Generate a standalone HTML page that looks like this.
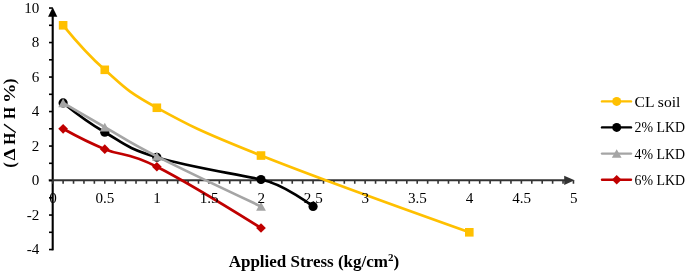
<!DOCTYPE html>
<html><head><meta charset="utf-8"><title>chart</title><style>html,body{margin:0;padding:0;background:#fff}</style></head><body>
<svg width="685" height="273" viewBox="0 0 685 273" style="display:block;font-family:'Liberation Serif',serif">
<rect width="685" height="273" fill="#fff"/>
<line x1="52.70" y1="250.35" x2="52.70" y2="15.00" stroke="#000" stroke-width="2.1"/>
<line x1="48.70" y1="180.25" x2="565.00" y2="180.25" stroke="#333" stroke-width="1.8"/>
<polygon points="52.70,7.20 57.30,16.80 48.10,16.80" fill="#000"/>
<polygon points="574.60,180.35 564.20,175.75 564.20,184.95" fill="#333"/>
<line x1="49.00" y1="249.55" x2="52.70" y2="249.55" stroke="#000" stroke-width="1.6"/>
<line x1="49.00" y1="232.30" x2="52.70" y2="232.30" stroke="#000" stroke-width="1.6"/>
<line x1="49.00" y1="215.05" x2="52.70" y2="215.05" stroke="#000" stroke-width="1.6"/>
<line x1="49.00" y1="197.80" x2="52.70" y2="197.80" stroke="#000" stroke-width="1.6"/>
<line x1="49.00" y1="180.55" x2="52.70" y2="180.55" stroke="#000" stroke-width="1.6"/>
<line x1="49.00" y1="163.30" x2="52.70" y2="163.30" stroke="#000" stroke-width="1.6"/>
<line x1="49.00" y1="146.05" x2="52.70" y2="146.05" stroke="#000" stroke-width="1.6"/>
<line x1="49.00" y1="128.80" x2="52.70" y2="128.80" stroke="#000" stroke-width="1.6"/>
<line x1="49.00" y1="111.55" x2="52.70" y2="111.55" stroke="#000" stroke-width="1.6"/>
<line x1="49.00" y1="94.30" x2="52.70" y2="94.30" stroke="#000" stroke-width="1.6"/>
<line x1="49.00" y1="77.05" x2="52.70" y2="77.05" stroke="#000" stroke-width="1.6"/>
<line x1="49.00" y1="59.80" x2="52.70" y2="59.80" stroke="#000" stroke-width="1.6"/>
<line x1="49.00" y1="42.55" x2="52.70" y2="42.55" stroke="#000" stroke-width="1.6"/>
<line x1="49.00" y1="25.30" x2="52.70" y2="25.30" stroke="#000" stroke-width="1.6"/>
<line x1="49.00" y1="8.05" x2="52.70" y2="8.05" stroke="#000" stroke-width="1.6"/>
<line x1="52.70" y1="180.25" x2="52.70" y2="183.75" stroke="#333" stroke-width="1.6"/>
<line x1="63.12" y1="180.25" x2="63.12" y2="183.75" stroke="#333" stroke-width="1.6"/>
<line x1="73.53" y1="180.25" x2="73.53" y2="183.75" stroke="#333" stroke-width="1.6"/>
<line x1="83.95" y1="180.25" x2="83.95" y2="183.75" stroke="#333" stroke-width="1.6"/>
<line x1="94.36" y1="180.25" x2="94.36" y2="183.75" stroke="#333" stroke-width="1.6"/>
<line x1="104.78" y1="180.25" x2="104.78" y2="183.75" stroke="#333" stroke-width="1.6"/>
<line x1="115.19" y1="180.25" x2="115.19" y2="183.75" stroke="#333" stroke-width="1.6"/>
<line x1="125.61" y1="180.25" x2="125.61" y2="183.75" stroke="#333" stroke-width="1.6"/>
<line x1="136.02" y1="180.25" x2="136.02" y2="183.75" stroke="#333" stroke-width="1.6"/>
<line x1="146.44" y1="180.25" x2="146.44" y2="183.75" stroke="#333" stroke-width="1.6"/>
<line x1="156.85" y1="180.25" x2="156.85" y2="183.75" stroke="#333" stroke-width="1.6"/>
<line x1="167.27" y1="180.25" x2="167.27" y2="183.75" stroke="#333" stroke-width="1.6"/>
<line x1="177.68" y1="180.25" x2="177.68" y2="183.75" stroke="#333" stroke-width="1.6"/>
<line x1="188.10" y1="180.25" x2="188.10" y2="183.75" stroke="#333" stroke-width="1.6"/>
<line x1="198.51" y1="180.25" x2="198.51" y2="183.75" stroke="#333" stroke-width="1.6"/>
<line x1="208.93" y1="180.25" x2="208.93" y2="183.75" stroke="#333" stroke-width="1.6"/>
<line x1="219.34" y1="180.25" x2="219.34" y2="183.75" stroke="#333" stroke-width="1.6"/>
<line x1="229.75" y1="180.25" x2="229.75" y2="183.75" stroke="#333" stroke-width="1.6"/>
<line x1="240.17" y1="180.25" x2="240.17" y2="183.75" stroke="#333" stroke-width="1.6"/>
<line x1="250.58" y1="180.25" x2="250.58" y2="183.75" stroke="#333" stroke-width="1.6"/>
<line x1="261.00" y1="180.25" x2="261.00" y2="183.75" stroke="#333" stroke-width="1.6"/>
<line x1="271.42" y1="180.25" x2="271.42" y2="183.75" stroke="#333" stroke-width="1.6"/>
<line x1="281.83" y1="180.25" x2="281.83" y2="183.75" stroke="#333" stroke-width="1.6"/>
<line x1="292.25" y1="180.25" x2="292.25" y2="183.75" stroke="#333" stroke-width="1.6"/>
<line x1="302.66" y1="180.25" x2="302.66" y2="183.75" stroke="#333" stroke-width="1.6"/>
<line x1="313.07" y1="180.25" x2="313.07" y2="183.75" stroke="#333" stroke-width="1.6"/>
<line x1="323.49" y1="180.25" x2="323.49" y2="183.75" stroke="#333" stroke-width="1.6"/>
<line x1="333.91" y1="180.25" x2="333.91" y2="183.75" stroke="#333" stroke-width="1.6"/>
<line x1="344.32" y1="180.25" x2="344.32" y2="183.75" stroke="#333" stroke-width="1.6"/>
<line x1="354.74" y1="180.25" x2="354.74" y2="183.75" stroke="#333" stroke-width="1.6"/>
<line x1="365.15" y1="180.25" x2="365.15" y2="183.75" stroke="#333" stroke-width="1.6"/>
<line x1="375.56" y1="180.25" x2="375.56" y2="183.75" stroke="#333" stroke-width="1.6"/>
<line x1="385.98" y1="180.25" x2="385.98" y2="183.75" stroke="#333" stroke-width="1.6"/>
<line x1="396.39" y1="180.25" x2="396.39" y2="183.75" stroke="#333" stroke-width="1.6"/>
<line x1="406.81" y1="180.25" x2="406.81" y2="183.75" stroke="#333" stroke-width="1.6"/>
<line x1="417.23" y1="180.25" x2="417.23" y2="183.75" stroke="#333" stroke-width="1.6"/>
<line x1="427.64" y1="180.25" x2="427.64" y2="183.75" stroke="#333" stroke-width="1.6"/>
<line x1="438.06" y1="180.25" x2="438.06" y2="183.75" stroke="#333" stroke-width="1.6"/>
<line x1="448.47" y1="180.25" x2="448.47" y2="183.75" stroke="#333" stroke-width="1.6"/>
<line x1="458.88" y1="180.25" x2="458.88" y2="183.75" stroke="#333" stroke-width="1.6"/>
<line x1="469.30" y1="180.25" x2="469.30" y2="183.75" stroke="#333" stroke-width="1.6"/>
<line x1="479.71" y1="180.25" x2="479.71" y2="183.75" stroke="#333" stroke-width="1.6"/>
<line x1="490.13" y1="180.25" x2="490.13" y2="183.75" stroke="#333" stroke-width="1.6"/>
<line x1="500.55" y1="180.25" x2="500.55" y2="183.75" stroke="#333" stroke-width="1.6"/>
<line x1="510.96" y1="180.25" x2="510.96" y2="183.75" stroke="#333" stroke-width="1.6"/>
<line x1="521.38" y1="180.25" x2="521.38" y2="183.75" stroke="#333" stroke-width="1.6"/>
<line x1="531.79" y1="180.25" x2="531.79" y2="183.75" stroke="#333" stroke-width="1.6"/>
<line x1="542.21" y1="180.25" x2="542.21" y2="183.75" stroke="#333" stroke-width="1.6"/>
<line x1="552.62" y1="180.25" x2="552.62" y2="183.75" stroke="#333" stroke-width="1.6"/>
<line x1="563.04" y1="180.25" x2="563.04" y2="183.75" stroke="#333" stroke-width="1.6"/>
<line x1="573.45" y1="180.25" x2="573.45" y2="183.75" stroke="#333" stroke-width="1.6"/>
<path d="M63.12 25.30 C63.12 25.30 86.03 53.31 104.78 69.81 C123.52 86.30 125.61 90.61 156.85 107.76 C188.10 124.90 198.51 130.63 261.00 155.54 C323.49 180.45 469.30 232.30 469.30 232.30" fill="none" stroke="#FFC000" stroke-width="2.7" stroke-linecap="round" stroke-linejoin="round"/>
<rect x="58.82" y="21.00" width="8.60" height="8.60" fill="#FFC000"/>
<rect x="100.48" y="65.51" width="8.60" height="8.60" fill="#FFC000"/>
<rect x="152.55" y="103.46" width="8.60" height="8.60" fill="#FFC000"/>
<rect x="256.70" y="151.24" width="8.60" height="8.60" fill="#FFC000"/>
<rect x="465.00" y="228.00" width="8.60" height="8.60" fill="#FFC000"/>
<path d="M63.12 102.93 C63.12 102.93 86.03 121.38 104.78 132.25 C123.52 143.12 125.61 147.81 156.85 157.26 C188.10 166.72 227.73 172.53 261.00 179.52 C284.49 184.45 313.07 206.43 313.07 206.43" fill="none" stroke="#000000" stroke-width="2.7" stroke-linecap="round" stroke-linejoin="round"/>
<circle cx="63.12" cy="102.93" r="4.60" fill="#000000"/>
<circle cx="104.78" cy="132.25" r="4.60" fill="#000000"/>
<circle cx="156.85" cy="157.26" r="4.60" fill="#000000"/>
<circle cx="261.00" cy="179.52" r="4.60" fill="#000000"/>
<circle cx="313.07" cy="206.43" r="4.60" fill="#000000"/>
<path d="M63.12 102.93 C63.12 102.93 86.03 116.38 104.78 127.08 C123.52 137.77 125.61 140.53 156.85 156.40 C188.10 172.27 261.00 206.43 261.00 206.43" fill="none" stroke="#A5A5A5" stroke-width="2.7" stroke-linecap="round" stroke-linejoin="round"/>
<polygon points="63.12,98.62 68.02,107.23 58.22,107.23" fill="#A5A5A5"/>
<polygon points="104.78,122.78 109.68,131.38 99.88,131.38" fill="#A5A5A5"/>
<polygon points="156.85,152.10 161.75,160.70 151.95,160.70" fill="#A5A5A5"/>
<polygon points="261.00,202.12 265.90,210.73 256.10,210.73" fill="#A5A5A5"/>
<path d="M63.12 128.80 C63.12 128.80 86.03 141.56 104.78 149.16 C123.52 156.75 125.61 150.98 156.85 166.75 C188.10 182.52 261.00 227.99 261.00 227.99" fill="none" stroke="#C00000" stroke-width="2.7" stroke-linecap="round" stroke-linejoin="round"/>
<polygon points="63.12,123.95 67.97,128.80 63.12,133.65 58.27,128.80" fill="#C00000"/>
<polygon points="104.78,144.31 109.62,149.16 104.78,154.00 99.93,149.16" fill="#C00000"/>
<polygon points="156.85,161.90 161.70,166.75 156.85,171.60 152.00,166.75" fill="#C00000"/>
<polygon points="261.00,223.14 265.85,227.99 261.00,232.84 256.15,227.99" fill="#C00000"/>
<text x="39.40" y="254.35" font-size="15.1" text-anchor="end" fill="#000">-4</text>
<text x="39.40" y="219.85" font-size="15.1" text-anchor="end" fill="#000">-2</text>
<text x="39.40" y="185.35" font-size="15.1" text-anchor="end" fill="#000">0</text>
<text x="39.40" y="150.85" font-size="15.1" text-anchor="end" fill="#000">2</text>
<text x="39.40" y="116.35" font-size="15.1" text-anchor="end" fill="#000">4</text>
<text x="39.40" y="81.85" font-size="15.1" text-anchor="end" fill="#000">6</text>
<text x="39.40" y="47.35" font-size="15.1" text-anchor="end" fill="#000">8</text>
<text x="39.40" y="12.85" font-size="15.1" text-anchor="end" fill="#000">10</text>
<text x="52.90" y="202.85" font-size="15.1" text-anchor="middle" fill="#000">0</text>
<text x="104.98" y="202.85" font-size="15.1" text-anchor="middle" fill="#000">0.5</text>
<text x="157.05" y="202.85" font-size="15.1" text-anchor="middle" fill="#000">1</text>
<text x="209.12" y="202.85" font-size="15.1" text-anchor="middle" fill="#000">1.5</text>
<text x="261.20" y="202.85" font-size="15.1" text-anchor="middle" fill="#000">2</text>
<text x="313.27" y="202.85" font-size="15.1" text-anchor="middle" fill="#000">2.5</text>
<text x="365.35" y="202.85" font-size="15.1" text-anchor="middle" fill="#000">3</text>
<text x="417.43" y="202.85" font-size="15.1" text-anchor="middle" fill="#000">3.5</text>
<text x="469.50" y="202.85" font-size="15.1" text-anchor="middle" fill="#000">4</text>
<text x="521.58" y="202.85" font-size="15.1" text-anchor="middle" fill="#000">4.5</text>
<text x="573.65" y="202.85" font-size="15.1" text-anchor="middle" fill="#000">5</text>
<text x="313.90" y="267.30" font-size="17" font-weight="bold" text-anchor="middle" fill="#000">Applied Stress (kg/cm<tspan font-size="11" dy="-6.2">2</tspan><tspan dy="6.2">)</tspan></text>
<text transform="translate(15.40 167.70) rotate(-90)" font-size="17" font-weight="bold" fill="#000"><tspan x="0">(</tspan><tspan x="7.3" font-size="17" textLength="12.2" lengthAdjust="spacingAndGlyphs">Δ</tspan><tspan x="19.5"> </tspan><tspan x="22.9" textLength="12.1" lengthAdjust="spacingAndGlyphs">H</tspan><tspan x="34.6" rotate="16" font-size="20.5">/</tspan><tspan x="44.5" rotate="0"> </tspan><tspan x="48.75" textLength="12.1" lengthAdjust="spacingAndGlyphs">H</tspan><tspan x="61"> </tspan><tspan x="64.6" textLength="19.5" lengthAdjust="spacingAndGlyphs">%</tspan><tspan x="83.5">)</tspan></text>
<line x1="602" y1="101.40" x2="631" y2="101.40" stroke="#FFC000" stroke-width="2.4" stroke-linecap="round"/>
<circle cx="616.70" cy="101.40" r="4.50" fill="#FFC000"/>
<text x="634.6" y="106.70" font-size="15.6" fill="#000">CL soil</text>
<line x1="602" y1="127.40" x2="631" y2="127.40" stroke="#000000" stroke-width="2.4" stroke-linecap="round"/>
<circle cx="616.70" cy="127.40" r="4.50" fill="#000000"/>
<text x="634.6" y="132.40" font-size="13.9" fill="#000">2% LKD</text>
<line x1="602" y1="153.60" x2="631" y2="153.60" stroke="#A5A5A5" stroke-width="2.4" stroke-linecap="round"/>
<polygon points="616.70,149.35 621.55,157.85 611.85,157.85" fill="#A5A5A5"/>
<text x="634.6" y="158.60" font-size="13.9" fill="#000">4% LKD</text>
<line x1="602" y1="179.70" x2="631" y2="179.70" stroke="#C00000" stroke-width="2.4" stroke-linecap="round"/>
<polygon points="616.70,174.90 621.50,179.70 616.70,184.50 611.90,179.70" fill="#C00000"/>
<text x="634.6" y="184.70" font-size="13.9" fill="#000">6% LKD</text>
</svg>
</body></html>
